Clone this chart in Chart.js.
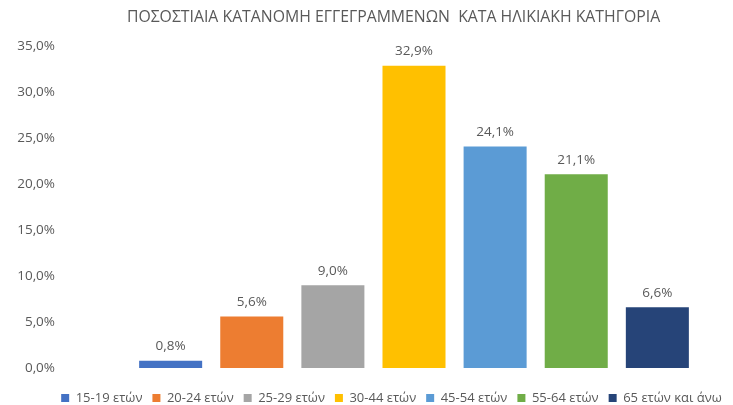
<!DOCTYPE html>
<html>
<head>
<meta charset="utf-8">
<script src="https://cdn.jsdelivr.net/npm/chart.js@4"></script>
<style>
  html, body { margin: 0; padding: 0; background: #ffffff; }
  #wrap { width: 733px; height: 405px; }
</style>
</head>
<body>
<div id="wrap"><canvas id="c" width="733" height="405"></canvas></div>
<script>
// ---- data ----
const chartTitle = 'ΠΟΣΟΣΤΙΑΙΑ ΚΑΤΑΝΟΜΗ ΕΓΓΕΓΡΑΜΜΕΝΩΝ  ΚΑΤΑ ΗΛΙΚΙΑΚΗ ΚΑΤΗΓΟΡΙΑ';
const categories = ['15-19 ετών', '20-24 ετών', '25-29 ετών', '30-44 ετών', '45-54 ετών', '55-64 ετών', '65 ετών και άνω'];
const values = [0.8, 5.6, 9.0, 32.9, 24.1, 21.1, 6.6];
const yMin = 0;
const yMax = 35;
const yStep = 5;

// ---- styles ----
const colors = ['#4472C4', '#ED7D31', '#A5A5A5', '#FFC000', '#5B9BD5', '#70AD47', '#264478'];
const FONT = "'Open Sans', 'Noto Sans', sans-serif";
const TEXT = '#595959';
const LABEL_SIZE = 13.5;
const LEGEND_SHIFT = 13.5;
const LEGEND_LEFT = 50;
const TITLE_LEFT = 54;
const YLABEL_RIGHT = 55;

const fmt = v => v.toFixed(1).replace('.', ',') + '%';

const datasets = categories.map((name, i) => ({
  label: name,
  data: [values[i]],
  backgroundColor: colors[i],
  borderWidth: 0,
  categoryPercentage: 0.89,
  barPercentage: 0.777
}));

const valueLabels = {
  id: 'valueLabels',
  afterDatasetsDraw(chart) {
    const ctx = chart.ctx;
    ctx.save();
    ctx.font = LABEL_SIZE + "px " + FONT;
    ctx.fillStyle = TEXT;
    ctx.textAlign = 'center';
    ctx.textBaseline = 'alphabetic';
    chart.data.datasets.forEach((ds, di) => {
      const meta = chart.getDatasetMeta(di);
      meta.data.forEach((el, j) => {
        const v = ds.data[j];
        if (v === null || v === undefined) return;
        ctx.fillText(fmt(v), el.x, el.y - 10.5);
      });
    });
    ctx.restore();
  }
};

// y tick labels sit well left of the plot (as in the original); title/legend offsets
const layoutTweaks = {
  id: 'layoutTweaks',
  afterLayout(chart) {
    const y = chart.scales.y;
    y.left = 0;
    y.right = YLABEL_RIGHT;
    if (chart.titleBlock) {
      chart.titleBlock.left = TITLE_LEFT;
    }
    if (chart.legend) {
      chart.legend.left = LEGEND_LEFT;
      chart.legend.top += LEGEND_SHIFT;
      chart.legend.bottom += LEGEND_SHIFT;
    }
  }
};

new Chart(document.getElementById('c'), {
  type: 'bar',
  data: { labels: [''], datasets },
  options: {
    responsive: false,
    animation: false,
    devicePixelRatio: 1,
    layout: { padding: { left: 30, right: 0, top: 0, bottom: 4 } },
    plugins: {
      title: {
        display: true,
        text: chartTitle,
        color: TEXT,
        font: { family: FONT, size: 15.8, weight: 'normal' },
        padding: { top: 8.5, bottom: 19 }
      },
      legend: {
        position: 'bottom',
        labels: {
          boxWidth: 8,
          boxHeight: 8,
          color: TEXT,
          padding: 10,
          font: { family: FONT, size: 13 }
        }
      },
      tooltip: { enabled: false }
    },
    scales: {
      x: {
        display: false,
        grid: { display: false }
      },
      y: {
        min: yMin,
        max: yMax,
        border: { display: false },
        grid: { display: false, drawTicks: false },
        ticks: {
          stepSize: yStep,
          padding: 0,
          color: TEXT,
          font: { family: FONT, size: LABEL_SIZE },
          callback: v => fmt(v)
        },
        afterFit(scale) { scale.width = 65; }
      }
    }
  },
  plugins: [valueLabels, layoutTweaks]
});
</script>
</body>
</html>
